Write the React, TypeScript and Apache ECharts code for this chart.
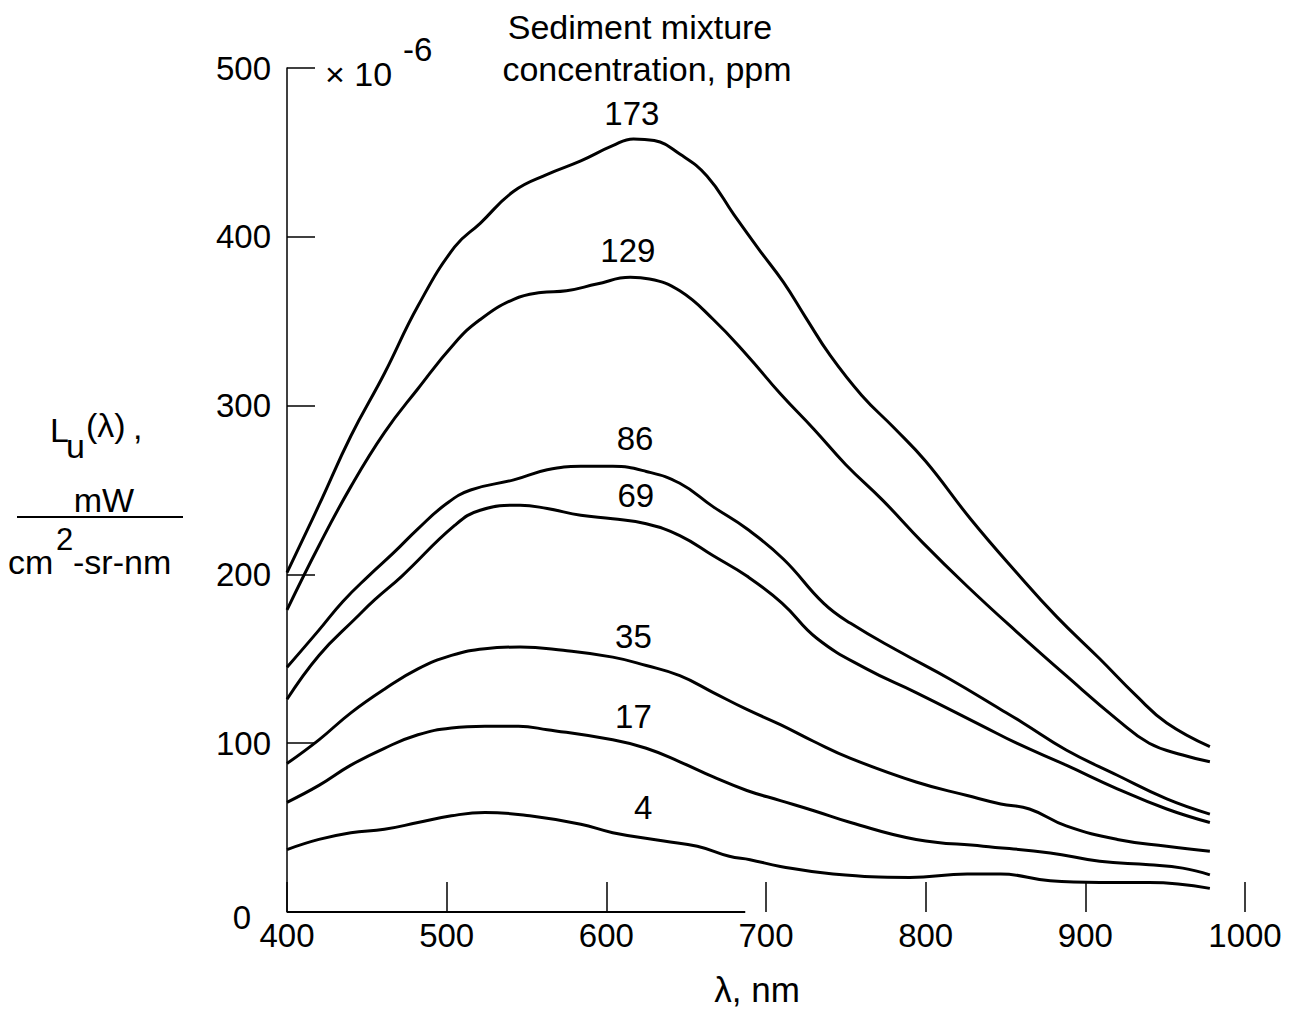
import React, { useEffect, useRef } from "react";
import * as echarts from "echarts";

// wavelength (nm), radiance (x 10^-6 mW / cm^2-sr-nm)
const c173: [number, number][] = [
  [400, 201], [420, 241], [440, 282], [461, 319], [482, 359], [505, 394], [521, 408],
  [542, 427], [563, 437], [584, 445], [604, 454], [617, 458], [630, 457], [646, 449],
  [663, 436], [680, 413], [696, 392], [711, 373], [725, 352], [740, 330], [760, 306],
  [780, 287], [800, 267], [828, 233], [857, 201], [882, 175], [909, 150], [932, 128],
  [951, 112], [978, 98],
];
const c129: [number, number][] = [
  [400, 179], [420, 217], [440, 252], [461, 284], [482, 310], [505, 337], [521, 351],
  [542, 363], [559, 367], [575, 368], [594, 372], [615, 376], [627, 375], [646, 368],
  [667, 351], [688, 330], [709, 307], [730, 286], [750, 265], [773, 244], [798, 219],
  [826, 193], [857, 166], [888, 140], [920, 114], [940, 100], [961, 93], [978, 89],
];
const c86: [number, number][] = [
  [400, 145], [420, 167], [435, 184], [451, 199], [467, 213], [482, 227], [500, 242],
  [515, 250], [542, 256], [563, 262], [584, 264], [604, 264], [625, 261], [646, 254],
  [667, 240], [688, 227], [711, 209], [736, 183], [753, 171], [784, 154], [815, 138],
  [847, 120], [861, 112], [888, 96], [920, 81], [951, 67], [978, 58],
];
const c69: [number, number][] = [
  [400, 126], [420, 152], [443, 174], [455, 185], [472, 199], [505, 229], [521, 238],
  [546, 241], [563, 239], [584, 235], [604, 233], [625, 230], [646, 223], [667, 211],
  [688, 199], [710, 183], [732, 162], [763, 144], [794, 130], [836, 110], [857, 100],
  [888, 87], [920, 73], [951, 61], [978, 53],
];
const c35: [number, number][] = [
  [400, 88], [420, 102], [440, 118], [461, 132], [482, 144], [503, 152], [524, 156],
  [546, 157], [573, 155], [604, 151], [625, 146], [646, 140], [667, 130], [688, 120],
  [709, 111], [730, 101], [753, 91], [794, 77], [826, 69], [847, 64], [865, 61],
  [888, 51], [920, 43], [951, 39], [978, 36],
];
const c17: [number, number][] = [
  [400, 65], [420, 75], [440, 87], [461, 97], [482, 105], [503, 109], [524, 110],
  [545, 110], [563, 108], [604, 102], [625, 97], [646, 89], [667, 80], [688, 72],
  [709, 66], [730, 60], [753, 53], [794, 43], [836, 39], [878, 35], [909, 30],
  [940, 28], [961, 26], [978, 22],
];
const c4: [number, number][] = [
  [400, 37], [420, 43], [440, 47], [461, 49], [482, 53], [503, 57], [524, 59],
  [552, 57], [584, 52], [604, 47], [636, 42], [657, 39], [677, 33], [690, 31],
  [709, 27], [742, 22.5], [790, 20.5], [826, 22.5], [847, 22.5], [878, 18.5],
  [909, 17.5], [940, 17.5], [978, 14],
];

const seriesNames = ["173", "129", "86", "69", "35", "17", "4"];
const seriesData = [c173, c129, c86, c69, c35, c17, c4];
// label anchor (wavelength, value) for each curve's concentration label
const labelPos: [number, number][] = [
  [616, 473], [613.5, 392], [618, 280.5], [618.5, 247], [617, 163], [617, 116], [623, 62],
];
// solid part of the drawn wavelength axis
const xAxisSolid: [number, number] = [400, 687];

const xTicks = { min: 400, max: 1000, interval: 100 };
const yTicks = { min: 0, max: 500, interval: 100 };

const FONT = "'Liberation Sans', Arial, sans-serif";

export default function App() {
  const ref = useRef<HTMLDivElement>(null);
  useEffect(() => {
    if (!ref.current) return;
    const chart = echarts.init(ref.current, undefined, { renderer: "svg" });
    const txt = (text: string, x: number, y: number, size: number, align: string) => ({
      type: "text",
      x,
      y,
      style: { text, fontSize: size, fontFamily: FONT, fill: "#000", align, verticalAlign: "middle" },
    });
    const series: any[] = seriesData.map((d, i) => ({
      type: "line",
      name: seriesNames[i],
      data: d,
      smooth: 0.45,
      symbol: "none",
      lineStyle: { color: "#000", width: 3 },
      markPoint: {
        symbol: "rect",
        symbolSize: 1,
        itemStyle: { color: "rgba(0,0,0,0)" },
        label: {
          show: true,
          position: "inside",
          formatter: seriesNames[i],
          fontSize: 33,
          fontFamily: FONT,
          color: "#000",
        },
        data: [{ coord: labelPos[i] }],
      },
    }));
    series[0].markLine = {
      symbol: "none",
      silent: true,
      label: { show: false },
      lineStyle: { color: "#000", width: 2, type: "solid" },
      data: [[{ coord: [xAxisSolid[0], 0] }, { coord: [xAxisSolid[1], 0] }]],
    };
    chart.setOption({
      animation: false,
      backgroundColor: "#fff",
      grid: { left: 287, right: 45, top: 68, bottom: 99 },
      xAxis: {
        type: "value",
        ...xTicks,
        axisLine: { show: false },
        axisTick: { show: true, inside: true, length: 30, lineStyle: { color: "#000", width: 1.5 } },
        axisLabel: {
          fontSize: 33,
          fontFamily: FONT,
          color: "#000",
          margin: 7,
          formatter: (v: number) => String(v),
        },
        splitLine: { show: false },
        name: "λ, nm",
        nameLocation: "middle",
        nameGap: 60,
        nameTextStyle: { fontSize: 35, fontFamily: FONT, color: "#000", padding: [0, 18, 0, 0] },
      },
      yAxis: {
        type: "value",
        ...yTicks,
        axisLine: { show: true, lineStyle: { color: "#000", width: 1.5 } },
        axisTick: { show: true, inside: true, length: 28, lineStyle: { color: "#000", width: 1.5 } },
        axisLabel: {
          fontSize: 33,
          fontFamily: FONT,
          color: "#000",
          margin: 16,
          formatter: (v: number) => (v === 0 ? "{z|0}" : String(v)),
          rich: { z: { fontSize: 33, fontFamily: FONT, color: "#000", padding: [10, 20, 0, 0] } },
        },
        splitLine: { show: false },
      },
      series,
      graphic: [
        txt("Sediment mixture", 640, 27, 34, "center"),
        txt("concentration, ppm", 647, 69, 34, "center"),
        txt("× 10", 325, 74, 34, "left"),
        txt("-6", 403, 49, 33, "left"),
        txt("L", 50, 430, 34, "left"),
        txt("u", 66, 446, 34, "left"),
        txt("(λ)", 86, 425, 34, "left"),
        txt(",", 133, 427, 34, "left"),
        txt("mW", 104, 500, 34, "center"),
        {
          type: "line",
          shape: { x1: 17, y1: 517, x2: 183, y2: 517 },
          style: { stroke: "#000", lineWidth: 2 },
        },
        txt("cm", 8, 562, 34, "left"),
        txt("2", 56, 539, 31, "left"),
        txt("-sr-nm", 73, 562, 34, "left"),
      ],
    });
    return () => chart.dispose();
  }, []);
  return (
    <div
      ref={ref}
      style={{ position: "fixed", left: 0, top: 0, width: 1290, height: 1012, background: "#fff" }}
    />
  );
}
